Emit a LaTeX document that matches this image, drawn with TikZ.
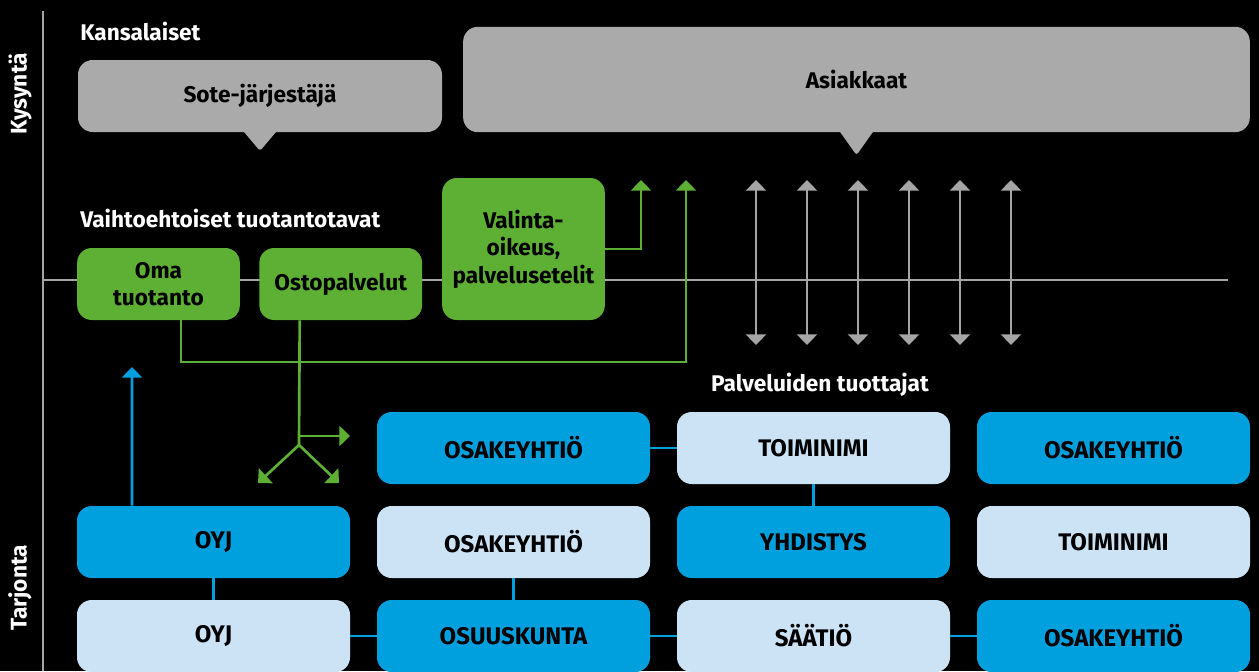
\documentclass[tikz,border=0pt]{standalone}
\usepackage{fontspec}
\setmainfont{Fira Sans}
\usetikzlibrary{arrows.meta,positioning}

\definecolor{darkblue}{RGB}{0,160,223}
\definecolor{lightblue}{RGB}{204,227,246}
\definecolor{leafgreen}{RGB}{94,176,52}
\definecolor{callgray}{RGB}{170,170,170}
\definecolor{linegray}{RGB}{165,165,165}

\begin{document}
\begin{tikzpicture}[x=0.75pt,y=-0.75pt,node distance=70.5pt,>={Triangle[width=15pt,length=8pt]},
    txt/.style={font=\bfseries\fontsize{17}{20.5}\selectfont},
    lab/.style={txt,text=white,anchor=west,inner sep=0pt},
    unit/.style={font=\bfseries\fontsize{18}{21}\selectfont,rounded corners=11pt,minimum width=204.75pt,minimum height=54pt,inner sep=0pt,text=black},
    dark/.style={unit,fill=darkblue},
    light/.style={unit,fill=lightblue},
    alt/.style={txt,rounded corners=11pt,fill=leafgreen,minimum width=122pt,minimum height=54pt,align=center,inner sep=0pt,text=black},
    bubble/.style={txt,rounded corners=11pt,fill=callgray,inner sep=0pt,text=black},
    gline/.style={leafgreen,line width=2pt},
    bline/.style={darkblue,line width=2pt},
    axis/.style={linegray,line width=1.8pt}]
    \fill[black] (0,0) rectangle (1259,671);
    \useasboundingbox (0,0) rectangle (1259,671);
    \node[txt,text=white,rotate=90] (kys) at (20,94) {Kysyntä};
    \node[txt,text=white,rotate=90] (tar) at (20,588) {Tarjonta};
    \draw[axis] (43,11) -- (43,671);
    \draw[axis] (43,280) -- (1228,280);
    \foreach \x in {756,807,858,909,960,1011}
        \draw[axis,<->] (\x,180) -- (\x,345);
    %%%%%%%%%
    \node[lab] (kan) at (80,32) {Kansalaiset};
    \node[bubble,minimum width=273pt,minimum height=54pt] (sote) at (260,96) {Sote-järjestäjä};
    \node[bubble,minimum width=590pt,minimum height=79pt] (asiak) at (856.5,79.5) {Asiakkaat};
        \fill[callgray,rounded corners=2pt] ([xshift=-13.5pt,yshift=2pt]sote.south) -- ([xshift=13.5pt,yshift=2pt]sote.south) -- ([yshift=-14pt]sote.south) -- cycle;
        \fill[callgray,rounded corners=2pt] ([xshift=-13.5pt,yshift=2pt]asiak.south) -- ([xshift=13.5pt,yshift=2pt]asiak.south) -- ([yshift=-17pt]asiak.south) -- cycle;
    %%%%%%%%%
    \node[lab] (vai) at (80,218) {Vaihtoehtoiset tuotantotavat};
    \node[alt] (oma) at (158.5,284) {Oma\\tuotanto};
    \node[alt,right=14.25pt of oma] (osto) {Ostopalvelut};
    \node[alt,minimum height=106.5pt] (val) at (523.5,249) {Valinta-\\oikeus,\\palvelusetelit};
        \coordinate (g1) at (641,180);
        \coordinate (g2) at (686,180);
        \coordinate (split) at (299,445);
        \coordinate (fork) at (299,436);
        \coordinate (tipr) at (350,436);
        \coordinate (tipa) at (258,483);
        \coordinate (tipb) at (339,483);
            \draw[gline,->] (val.east) -| (g1);
            \draw[gline,->] ([xshift=16.9pt]oma.south) |- (686,362) -- (g2);
            \draw[gline] ([xshift=-30.75pt]osto.south) -- (split);
            \draw[gline,->] (fork) -- (tipr);
            \draw[gline,->] (split) -- (tipa);
            \draw[gline,->] (split) -- (tipb);
    %%%%%%%%%
    \node[lab,anchor=center] (pal) at (820,385) {Palveluiden tuottajat};
    \node[dark] (oyj) at (213.5,542) {OYJ};
        \node[light,right of=oyj,node distance=225pt] (osa2) {OSAKEYHTIÖ};
        \node[dark,right of=osa2,node distance=225pt] (yhd) {YHDISTYS};
        \node[light,right of=yhd,node distance=225pt] (toi2) {TOIMINIMI};
        \node[dark,above of=osa2] (osa1) {OSAKEYHTIÖ};
        \node[light,above of=yhd] (toi1) {TOIMINIMI};
        \node[dark,above of=toi2] (osa3) {OSAKEYHTIÖ};
        \node[light,below of=oyj] (oyj2) {OYJ};
        \node[dark,below of=osa2] (osu) {OSUUSKUNTA};
        \node[light,below of=yhd] (saa) {SÄÄTIÖ};
        \node[dark,below of=toi2] (osa4) {OSAKEYHTIÖ};
        \coordinate (up) at (132,367);
            \draw[bline,->] ([xshift=-61.1pt]oyj.north) -- (up);
            \draw[bline] (osa1) -- (toi1);
            \draw[bline] (toi1) -- (yhd);
            \draw[bline] (oyj) -- (oyj2);
            \draw[bline] (osa2) -- (osu);
            \draw[bline] (oyj2) -- (osu);
            \draw[bline] (osu) -- (saa);
            \draw[bline] (saa) -- (osa4);
\end{tikzpicture}
\end{document}
